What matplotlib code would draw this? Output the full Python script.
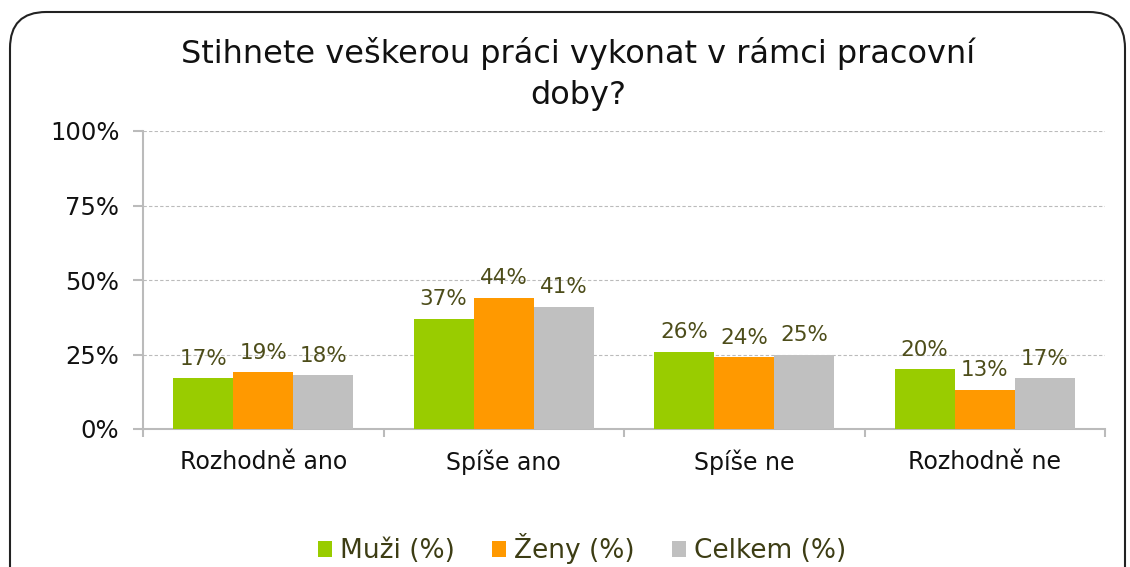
import numpy as np
import matplotlib
matplotlib.use("Agg")
import matplotlib.pyplot as plt
from matplotlib.patches import FancyBboxPatch

# data
categories = ["Rozhodně ano", "Spíše ano", "Spíše ne", "Rozhodně ne"]
series_names = ["Muži (%)", "Ženy (%)", "Celkem (%)"]
muzi = [17, 37, 26, 20]
zeny = [19, 44, 24, 13]
celkem = [18, 41, 25, 17]
colors = ["#99cc00", "#ff9900", "#c0c0c0"]
yticks = [0, 25, 50, 75, 100]

plt.rcParams['font.family'] = ['DejaVu Sans']

W, H = 1130, 567
fig = plt.figure(figsize=(W / 100, H / 100), dpi=100)

# rounded frame
frame = FancyBboxPatch((10 / W, -0.2), 1115 / W, (H - 12) / H + 0.2,
                       boxstyle="round,pad=0,rounding_size=0.032",
                       transform=fig.transFigure, fill=False,
                       edgecolor="#222222", linewidth=1.5, mutation_aspect=W / H)
fig.patches.append(frame)

ax = fig.add_axes([143 / W, 1 - 429 / H, (1105 - 143) / W, (429 - 131) / H])

x = np.arange(len(categories))
bw = 0.25
for i, (vals, name) in enumerate(zip([muzi, zeny, celkem], series_names)):
    xs = x + (i - 1) * bw
    ax.bar(xs, vals, width=bw, color=colors[i], label=name, zorder=3)
    for xx, v in zip(xs, vals):
        ax.text(xx, v + 3.3, f"{v}%", ha="center", va="bottom",
                fontsize=15.5, color="#4d4d1a", zorder=4)

ax.set_xlim(-0.5, len(categories) - 0.5)
ax.set_ylim(0, 100)
ax.set_yticks(yticks)
ax.set_yticklabels([f"{t}%" for t in yticks], fontsize=17.5, color="#111111")
ax.set_xticks(x)
ax.set_xticklabels(categories, fontsize=17, color="#111111")
ax.set_xticks(np.arange(len(categories) + 1) - 0.5, minor=True)
ax.tick_params(axis="x", which="major", length=0, pad=15)
ax.tick_params(axis="x", which="minor", length=6, color="#bbbbbb", width=1.5)
ax.tick_params(axis="y", length=7, color="#bbbbbb", width=1.5, pad=10)

for t in yticks[1:]:
    ax.axhline(t, color="#bbbbbb", linestyle=(0, (3, 2)), linewidth=0.8, zorder=1)

for s in ["top", "right"]:
    ax.spines[s].set_visible(False)
ax.spines["left"].set_color("#bbbbbb")
ax.spines["bottom"].set_color("#bbbbbb")
ax.spines["left"].set_linewidth(1.5)
ax.spines["bottom"].set_linewidth(1.5)

fig.text(578 / W, 1 - 74 / H, "Stihnete veškerou práci vykonat v rámci pracovní\ndoby?",
         ha="center", va="center", fontsize=23, color="#111111", linespacing=1.45)

leg = fig.legend(loc="center", bbox_to_anchor=(582 / W, 1 - 549 / H), ncol=3,
                 frameon=False, fontsize=19, handlelength=0.55, handleheight=0.55,
                 handletextpad=0.3, columnspacing=1.4)
for t in leg.get_texts():
    t.set_color("#3d3d14")

fig.savefig("out.png", dpi=100)
